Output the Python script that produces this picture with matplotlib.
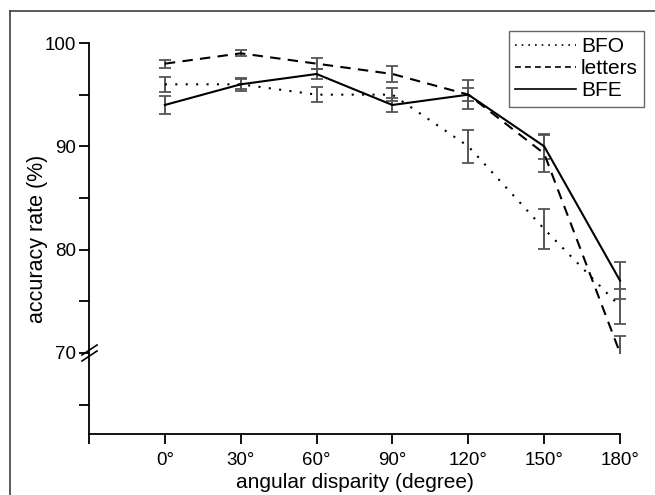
import matplotlib
matplotlib.use("Agg")
import matplotlib.pyplot as plt
from matplotlib.lines import Line2D
from matplotlib.patches import Rectangle
from matplotlib.transforms import IdentityTransform

plt.rcParams['font.family'] = ['Liberation Sans', 'DejaVu Sans']

angles = [0, 30, 60, 90, 120, 150, 180]
tick_labels = ['0°', '30°', '60°', '90°', '120°', '150°', '180°']

bfo = [96, 96, 95, 95, 90, 82, 74.5]
bfo_err = [0.75, 0.5, 0.7, 0.65, 1.6, 1.9, 1.7]

letters = [98, 99, 98, 97, 95, 89.3, 70]
letters_err = [0.4, 0.3, 0.5, 0.8, 0.6, 1.8, 1.6]

bfe = [94, 96, 97, 94, 95, 90, 77]
bfe_err = [0.9, 0.6, 0.5, 0.7, 1.4, 1.2, 1.8]

W, H = 655, 495
fig = plt.figure(figsize=(W / 100, H / 100), dpi=100)
x0, x1, ytop, ybot = 89, 620, 43, 434
ax = fig.add_axes([x0 / W, 1 - ybot / H, (x1 - x0) / W, (ybot - ytop) / H])

ax.set_xlim(-30, 180)
ax.set_ylim(62.15, 100)

# visible region above the axis break (nothing drawn below 70)
clip_rect = Rectangle((-40, 69.85), 240, 40, transform=ax.transData,
                      facecolor='none', edgecolor='none')

err_kw = dict(ecolor='#555555', elinewidth=1.4, capsize=4.2, capthick=1.3)
l1 = ax.errorbar(angles, bfo, yerr=bfo_err, color='black', lw=1.5,
                 linestyle=(0, (1, 4)), label='BFO', **err_kw)
l2 = ax.errorbar(angles, letters, yerr=letters_err, color='black', lw=1.5,
                 linestyle=(0, (5, 3.5)), label='letters', **err_kw)
l3 = ax.errorbar(angles, bfe, yerr=bfe_err, color='black', lw=1.5,
                 linestyle='-', label='BFE', **err_kw)
for cont in (l1, l2, l3):
    for art in cont.get_children():
        art.set_clip_on(True)
        art.set_clip_path(clip_rect)

ax.set_xticks([-30] + angles)
ax.set_xticklabels([''] + tick_labels)
ax.set_yticks([70, 80, 90, 100])
ax.set_yticks([65, 75, 85, 95], minor=True)
ax.tick_params(axis='both', which='major', direction='out', length=7, width=1.3,
               labelsize=13.5)
ax.tick_params(axis='x', which='major', pad=6)
ax.tick_params(axis='y', which='major', pad=2)
ax.tick_params(axis='y', which='minor', direction='out', length=7, width=1.3)
for s in ('top', 'right'):
    ax.spines[s].set_visible(False)
for s in ('left', 'bottom'):
    ax.spines[s].set_linewidth(1.3)

ax.set_xlabel('angular disparity (degree)', fontsize=15, labelpad=3)
ax.set_ylabel('accuracy rate (%)', fontsize=15.5, labelpad=-2)

leg = ax.legend(handles=[Line2D([], [], color='black', lw=1.2, linestyle=(0, (1, 3))),
                         Line2D([], [], color='black', lw=1.2, linestyle=(0, (3.5, 2.5))),
                         Line2D([], [], color='black', lw=1.2, linestyle='-')],
                labels=['BFO', 'letters', 'BFE'],
                loc='upper right', bbox_to_anchor=(644 / W, 1 - 31 / H),
                bbox_transform=fig.transFigure, fontsize=15, frameon=True,
                fancybox=False, handlelength=2.9, handletextpad=0.25,
                labelspacing=0.15, borderpad=0.3, borderaxespad=0)
leg.get_frame().set_edgecolor('#404040')
leg.get_frame().set_linewidth(1.0)

# axis break marks at 70
ident = IdentityTransform()
y70 = H - 353
for dy in (-3, 3):
    fig.add_artist(Line2D([82, 97], [y70 + dy - 5, y70 + dy + 5], color='black',
                          lw=1.2, transform=ident))

# outer frame (left and top edges)
fig.add_artist(Line2D([9.5, 9.5], [0, H - 10.5], color='#404040', lw=1.2, transform=ident))
fig.add_artist(Line2D([9.5, W], [H - 10.5, H - 10.5], color='#404040', lw=1.2, transform=ident))

fig.savefig('out.png', dpi=100)
